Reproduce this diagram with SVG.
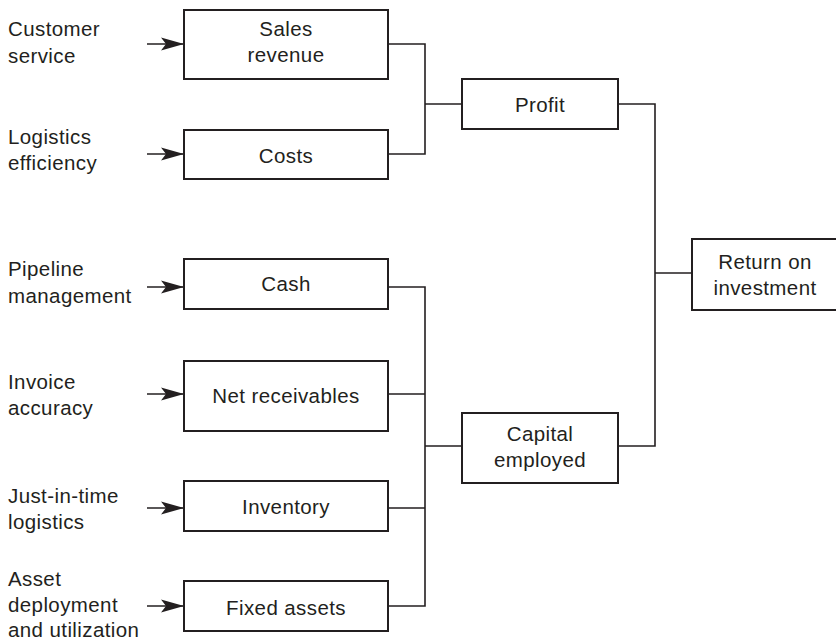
<svg xmlns="http://www.w3.org/2000/svg" width="836" height="641" viewBox="0 0 836 641">
<defs>
<style>
.box{fill:#fff;stroke:#231f20;stroke-width:2}
.t{font-family:"Liberation Sans",Arial,sans-serif;font-size:20.5px;letter-spacing:0.4px;fill:#231f20}
.c{text-anchor:middle}
.ln{fill:none;stroke:#231f20;stroke-width:1.6}
.ar{fill:none;stroke:#231f20;stroke-width:1.6;marker-end:url(#ah)}
</style>
<marker id="ah" markerUnits="userSpaceOnUse" markerWidth="24" markerHeight="16" viewBox="0 0 24 16" refX="23" refY="8" orient="auto">
<path d="M0,1.5 L23,8 L0,14.5 L5,8 Z" fill="#231f20"/>
</marker>
</defs>
<rect width="836" height="641" fill="#fff"/>

<g id="labels">
<text class="t" x="8" y="36">Customer</text>
<text class="t" x="8" y="63">service</text>
<text class="t" x="8" y="144">Logistics</text>
<text class="t" x="8" y="170">efficiency</text>
<text class="t" x="8" y="276">Pipeline</text>
<text class="t" x="8" y="303">management</text>
<text class="t" x="8" y="389">Invoice</text>
<text class="t" x="8" y="415">accuracy</text>
<text class="t" x="8" y="503">Just-in-time</text>
<text class="t" x="8" y="529">logistics</text>
<text class="t" x="8" y="586">Asset</text>
<text class="t" x="8" y="612">deployment</text>
<text class="t" x="8" y="637">and utilization</text>
</g>

<g id="connectors">
<path class="ar" d="M147 44 H184"/>
<path class="ar" d="M147 154 H184"/>
<path class="ar" d="M147 287 H184"/>
<path class="ar" d="M147 394 H184"/>
<path class="ar" d="M147 508 H184"/>
<path class="ar" d="M147 606 H184"/>
<path class="ln" d="M388 44 H425 V154 H388 M425 104 H462"/>
<path class="ln" d="M388 287 H425 V606 H388 M388 394 H425 M388 508 H425 M425 446 H462"/>
<path class="ln" d="M618 104 H655 V446 H618 M655 273 H692"/>
</g>

<g id="sales-revenue"><rect class="box" x="184" y="10" width="204" height="69"/>
<text class="t c" x="286" y="36">Sales</text><text class="t c" x="286" y="62">revenue</text></g>
<g id="costs"><rect class="box" x="184" y="130" width="204" height="49"/>
<text class="t c" x="286" y="163">Costs</text></g>
<g id="cash"><rect class="box" x="184" y="259" width="204" height="50"/>
<text class="t c" x="286" y="291">Cash</text></g>
<g id="net-receivables"><rect class="box" x="184" y="361" width="204" height="70"/>
<text class="t c" x="286" y="403">Net receivables</text></g>
<g id="inventory"><rect class="box" x="184" y="481" width="204" height="50"/>
<text class="t c" x="286" y="514">Inventory</text></g>
<g id="fixed-assets"><rect class="box" x="184" y="581" width="204" height="50"/>
<text class="t c" x="286" y="615">Fixed assets</text></g>
<g id="profit"><rect class="box" x="462" y="79" width="156" height="50"/>
<text class="t c" x="540" y="112">Profit</text></g>
<g id="capital-employed"><rect class="box" x="462" y="413" width="156" height="70"/>
<text class="t c" x="540" y="441">Capital</text><text class="t c" x="540" y="467">employed</text></g>
<g id="return-on-investment"><rect class="box" x="692" y="239" width="147" height="71"/>
<text class="t c" x="765" y="269">Return on</text><text class="t c" x="765" y="295">investment</text></g>
</svg>
